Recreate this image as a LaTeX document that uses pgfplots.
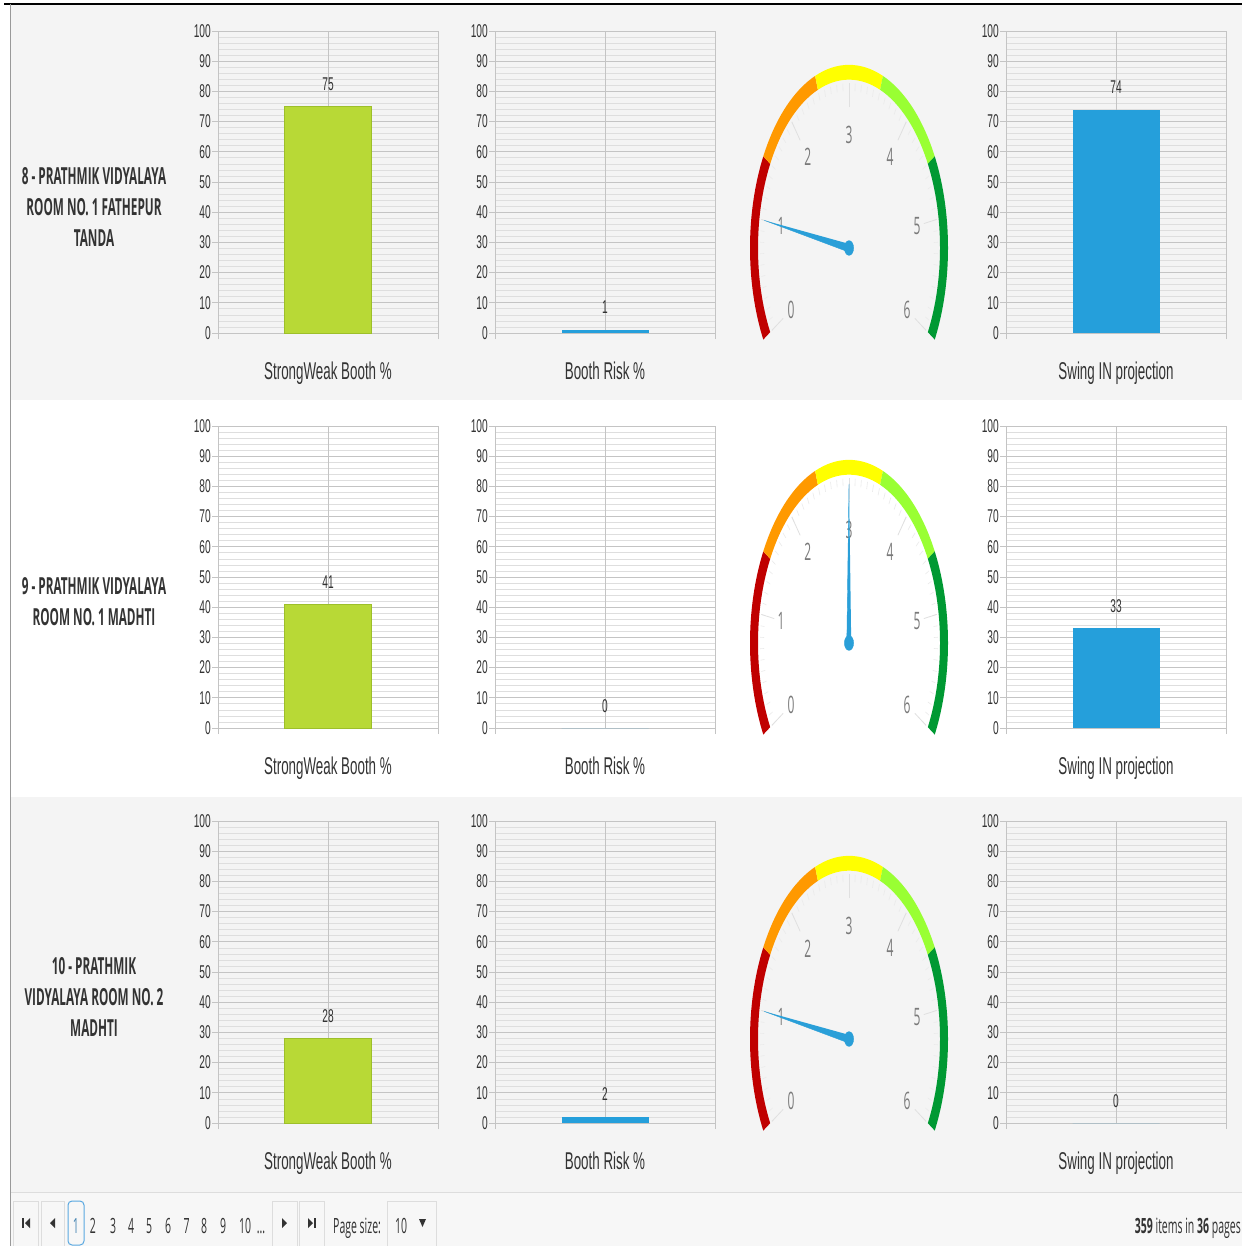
\documentclass[border=0pt]{standalone}
\usepackage{pgfplots}
\pgfplotsset{compat=1.18}
\usepackage{pgfplotstable}
\usepackage{fontspec}
\setmainfont{Liberation Sans}
\newfontfamily\chartfont[FakeStretch=0.55]{Liberation Sans}
\newfontfamily\uifont[FakeStretch=0.5]{Open Sans}
\definecolor{rowgray}{HTML}{F4F4F4}
\definecolor{pagerbg}{HTML}{F7F7F7}
\definecolor{barGreen}{HTML}{B8D936}
\definecolor{barGreenEdge}{HTML}{9DBF2A}
\definecolor{barBlue}{HTML}{259FDB}
\definecolor{gridMajor}{HTML}{C4C4C4}
\definecolor{gridMinor}{HTML}{DEDEDE}
\definecolor{gRed}{HTML}{C00000}
\definecolor{gOrange}{HTML}{FF9900}
\definecolor{gYellow}{HTML}{FFFF00}
\definecolor{gLime}{HTML}{99FF33}
\definecolor{gGreen}{HTML}{009933}
\definecolor{needle}{HTML}{2A9FD8}
\definecolor{labelgray}{HTML}{7A7A7A}
\definecolor{txt}{HTML}{333333}
\definecolor{btnborder}{HTML}{DDDDDD}
\definecolor{activeblue}{HTML}{5AA8E0}

\pgfplotsset{
  barchart/.style={
    scale only axis, width=220pt, height=302pt,
    anchor=south west,
    xmin=0, xmax=2, ymin=0, ymax=100,
    ytick={0,10,...,100}, minor y tick num=4,
    xtick={0,2}, xticklabels={},
    ymajorgrids, yminorgrids,
    major grid style={gridMajor, line width=0.8pt},
    minor grid style={gridMinor, line width=0.7pt},
    axis line style={gridMajor, line width=0.8pt},
    major tick style={gridMajor, line width=0.8pt},
    tick align=outside, major tick length=6pt, minor tick length=0pt,
    tickpos=left,
    /pgf/number format/assume math mode=true,
    yticklabel style={font=\chartfont\fontsize{18.5}{18.5}\selectfont, color=txt, inner sep=1pt},
    ybar, bar width=87pt, bar shift=0pt,
    nodes near coords,
    every node near coord/.append style={font=\chartfont\fontsize{18.5}{18.5}\selectfont, color=txt, anchor=base, yshift=16pt},
    xlabel style={at={(axis description cs:0.5,0)}, anchor=base, yshift=-46pt, font=\chartfont\fontsize{24.3}{24.3}\selectfont, color=txt},
    clip=false,
  },
  greenbar/.style={fill=barGreen, draw=barGreenEdge, line width=0.8pt},
  bluebar/.style={fill=barBlue, draw=none},
}

\newcommand{\barchart}[5]{%
\begin{axis}[barchart, at={(#1pt,#2pt)}, xlabel={#5}]
\draw[gridMajor, line width=0.8pt] (axis cs:1,0) -- (axis cs:1,100);
\addplot[#4] coordinates {(1,#3)};
\end{axis}}

\newcommand{\gaugeface}[2]{%
\begin{scope}[shift={(#1,#2)}, yscale=1.85]
  \foreach \k in {0,...,60} \draw[black!8, line width=0.6pt] ({210-4*\k}:85) -- ({210-4*\k}:89);
  \foreach \k in {0,...,6} \draw[black!12, line width=0.8pt] ({210-40*\k}:76) -- ({210-40*\k}:89);
  \fill[gRed] (210:91) arc[start angle=210,end angle=150,radius=91] -- (150:99) arc[start angle=150,end angle=210,radius=99] -- cycle;
  \fill[gOrange] (150:91) arc[start angle=150,end angle=110,radius=91] -- (110:99) arc[start angle=110,end angle=150,radius=99] -- cycle;
  \fill[gYellow] (110:91) arc[start angle=110,end angle=70,radius=91] -- (70:99) arc[start angle=70,end angle=110,radius=99] -- cycle;
  \fill[gLime] (70:91) arc[start angle=70,end angle=30,radius=91] -- (30:99) arc[start angle=30,end angle=70,radius=99] -- cycle;
  \fill[gGreen] (30:91) arc[start angle=30,end angle=-30,radius=91] -- (-30:99) arc[start angle=-30,end angle=30,radius=99] -- cycle;
  \foreach \k/\r in {0/67,1/69,2/64,3/61,4/64,5/69,6/67} \node[font=\uifont\fontsize{24}{24}\selectfont, text=labelgray] at ({210-40*\k}:\r) {\k};
\end{scope}}

\newcommand{\gaugeneedle}[3]{%
\begin{axis}[x=1pt, y=1.85pt, xmin=-100, xmax=100, ymin=-60, ymax=100, hide axis,
  anchor=south west, at={({#1pt-100pt},{#2pt-111pt})}, clip=false]
\addplot[fill=needle, draw=needle, line width=0.4pt] table[row sep=\\,
  x expr={\thisrow{r}*cos(210-40*\thisrow{v}+\thisrow{d})},
  y expr={\thisrow{r}*sin(210-40*\thisrow{v}+\thisrow{d})}] {
r d v\\
86 0 #3\\
2.2 90 #3\\
2.2 -90 #3\\
};
\addplot[only marks, mark=*, mark size=4.6pt, mark options={fill=needle, draw=needle, yscale=1.6}] coordinates {(0,0)};
\end{axis}}

\begin{document}
\begin{tikzpicture}[x=1pt,y=1pt]
\useasboundingbox (0,0) rectangle (1242,-1246);
\fill[white] (0,0) rectangle (1242,-1246);
% row backgrounds
\fill[rowgray] (10,-4) rectangle (1242,-400);
\fill[rowgray] (10,-797) rectangle (1242,-1192);
\fill[pagerbg] (10,-1192) rectangle (1242,-1246);
\draw[btnborder, line width=1pt] (10,-1192.5) -- (1242,-1192.5);
\draw[black, line width=1.4pt] (4,-4) -- (1242,-4);
\draw[black!40, line width=1pt] (10,-4) -- (10,-1246);

% left labels
\node[align=center, text=txt, font=\uifont\bfseries\fontsize{23.5}{31}\selectfont] at (94,-207) {8 - PRATHMIK VIDYALAYA\\ROOM NO. 1 FATHEPUR\\TANDA};
\node[align=center, text=txt, font=\uifont\bfseries\fontsize{23.5}{31}\selectfont] at (94,-602) {9 - PRATHMIK VIDYALAYA\\ROOM NO. 1 MADHTI};
\node[align=center, text=txt, font=\uifont\bfseries\fontsize{23.5}{31}\selectfont] at (94,-997) {10 - PRATHMIK\\VIDYALAYA ROOM NO. 2\\MADHTI};

% row 1
\barchart{218}{-333}{75}{greenbar}{StrongWeak Booth \%}
\barchart{495}{-333}{1}{bluebar}{Booth Risk \%}
\barchart{1006}{-333}{74}{bluebar}{Swing IN projection}
\gaugeface{849}{-248}
\gaugeneedle{849}{-248}{1}
% row 2
\barchart{218}{-728}{41}{greenbar}{StrongWeak Booth \%}
\barchart{495}{-728}{0}{bluebar}{Booth Risk \%}
\barchart{1006}{-728}{33}{bluebar}{Swing IN projection}
\gaugeface{849}{-643}
\gaugeneedle{849}{-643}{3}
% row 3
\barchart{218}{-1123}{28}{greenbar}{StrongWeak Booth \%}
\barchart{495}{-1123}{2}{bluebar}{Booth Risk \%}
\barchart{1006}{-1123}{0}{bluebar}{Swing IN projection}
\gaugeface{849}{-1039}
\gaugeneedle{849}{-1039}{1}

% pager
\begin{scope}[font=\uifont\fontsize{21}{21}\selectfont, text=txt]
\draw[btnborder, fill=pagerbg] (13,-1246) rectangle (38,-1201);
\draw[btnborder, fill=pagerbg] (41,-1246) rectangle (64,-1201);
\draw[btnborder, fill=pagerbg] (272,-1246) rectangle (297,-1201);
\draw[btnborder, fill=pagerbg] (299,-1246) rectangle (324,-1201);
\draw[btnborder, fill=pagerbg] (387,-1246) rectangle (436,-1201);
\draw[activeblue, line width=1pt, rounded corners=4pt] (68,-1245) rectangle (84,-1201);
\fill[txt] (22,-1218) rectangle (24,-1228);
\fill[txt] (30,-1218) -- (30,-1228) -- (25,-1223) -- cycle;
\fill[txt] (55,-1218) -- (55,-1228) -- (50,-1223) -- cycle;
\fill[txt] (282,-1218) -- (282,-1228) -- (287,-1223) -- cycle;
\fill[txt] (308,-1218) -- (308,-1228) -- (313,-1223) -- cycle;
\fill[txt] (314,-1218) rectangle (316,-1228);
\fill[txt] (419,-1219) -- (426,-1219) -- (422.5,-1227) -- cycle;
\node[anchor=base, text=activeblue!80!black] at (76,-1233) {1};
\node[anchor=base] at (93,-1233) {2};
\node[anchor=base] at (113,-1233) {3};
\node[anchor=base] at (131,-1233) {4};
\node[anchor=base] at (149,-1233) {5};
\node[anchor=base] at (168,-1233) {6};
\node[anchor=base] at (186.5,-1233) {7};
\node[anchor=base] at (204,-1233) {8};
\node[anchor=base] at (223,-1233) {9};
\node[anchor=base] at (245,-1233) {10};
\node[anchor=base] at (261,-1233) {...};
\node[anchor=base west, inner sep=0pt] at (333,-1233) {Page size:};
\node[anchor=base] at (401,-1233) {10};
\node[anchor=base east, inner sep=0pt] at (1241,-1233) {\bfseries 359\mdseries{} items in \bfseries 36\mdseries{} pages};
\end{scope}
\end{tikzpicture}
\end{document}
